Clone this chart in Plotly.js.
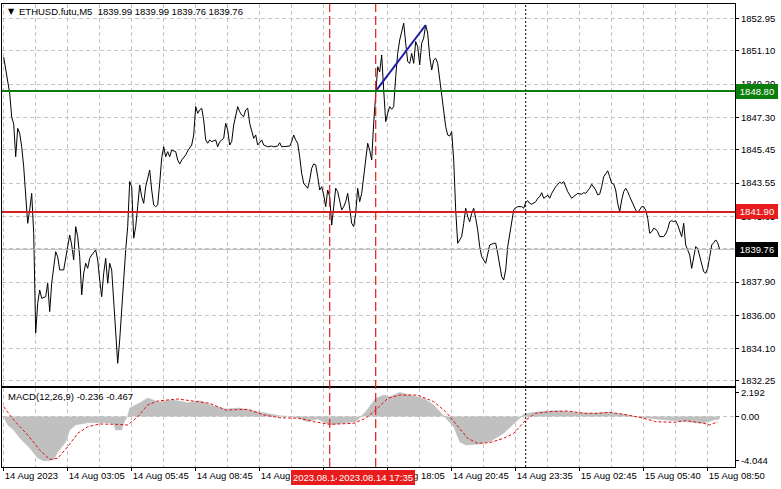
<!DOCTYPE html>
<html><head><meta charset="utf-8">
<script src="https://cdn.plot.ly/plotly-3.0.1.min.js"></script>
<style>html,body{margin:0;padding:0;background:#fff;}#chart{width:781px;height:489px;}</style>
</head><body><div id="chart"></div>
<script>
// ---- data (bar index = M5 bar number from left edge) ----
const priceIdx = [0,2,3,4,5,6,7,8,9,10,11,12,13,14,15,16,17,18,19,21,22,23,24,25,26,27,28,30,31,32,33,34,35,36,37,38,39,40,41,42,43,44,46,47,48,49,50,51,52,53,54,55,56,57,58,59,60,61,62,63,64,65,66,67,68,69,70,71,73,74,75,76,77,78,79,80,81,82,83,84,86,87,88,89,91,92,94,95,96,97,98,99,100,101,102,103,104,106,107,108,110,111,112,113,114,115,117,118,119,120,121,122,123,125,126,127,129,130,132,134,135,137,138,139,141,143,144,145,146,147,148,149,150,152,153,154,155,156,157,158,159,160,161,162,163,164,165,166,167,168,169,170,171,172,173,174,175,176,177,178,179,180,181,182,183,184,185,186,187,188,189,190,191,192,193,194,195,196,197,198,199,200,201,202,203,204,205,206,207,208,209,210,211,212,213,214,215,216,217,218,219,220,221,222,223,224,225,226,227,228,229,230,231,232,233,234,235,236,237,238,239,241,242,243,245,246,247,248,249,250,251,252,253,254,255,256,257,259,260,261,262,263,264,266,267,268,269,270,271,272,273,274,275,276,278,279,280,281,282,284,286,287,289,290,291,293,294,296,297,298,299,300,301,302,303,304,305,306,307,308,309,310,311,312,313,314,315,316,317,318,319,320,321,322,323,324,325,326,327,328,330,331,332,333,334,335,336,337,338,339,340,341,342,343,344,345,346,347,348,349,350,351,352,353,354,355,356,357,358];
const priceVal = [1850.73,1849.24,1848.67,1847.32,1846.92,1845.05,1846.67,1846.39,1845.62,1844.48,1842.96,1841.25,1842.01,1842.96,1840.68,1834.99,1836.68,1837.44,1836.97,1837.06,1837.83,1836.21,1837.83,1838.77,1839.63,1839.34,1838.59,1838.59,1839.16,1839.92,1840.58,1840.01,1839.16,1841.06,1840.49,1839.34,1837.16,1838.40,1838.97,1838.68,1839.25,1839.44,1839.73,1839.16,1838.01,1837.06,1838.40,1839.25,1837.83,1838.97,1838.59,1836.87,1834.97,1833.26,1834.59,1836.11,1838.01,1839.73,1841.06,1843.63,1843.34,1840.40,1841.06,1842.20,1843.44,1842.77,1842.39,1843.34,1844.29,1843.15,1842.30,1842.20,1842.30,1843.53,1844.98,1845.62,1845.05,1845.34,1845.05,1845.43,1845.34,1844.86,1844.64,1844.86,1845.15,1845.38,1845.72,1846.29,1847.91,1847.53,1847.72,1847.82,1847.15,1846.01,1845.82,1846.01,1845.91,1846.01,1845.62,1845.91,1846.10,1846.96,1846.58,1845.72,1845.91,1846.86,1847.91,1847.62,1847.43,1847.34,1847.72,1847.82,1846.96,1846.10,1846.29,1845.72,1846.01,1845.72,1845.62,1845.66,1845.62,1845.66,1845.85,1845.62,1845.66,1845.66,1845.91,1846.29,1846.01,1845.82,1845.05,1844.10,1843.53,1843.25,1843.72,1844.39,1844.64,1844.58,1843.91,1843.15,1843.34,1842.87,1842.20,1843.15,1842.77,1841.15,1842.20,1843.25,1843.06,1842.58,1842.01,1842.20,1842.48,1842.96,1842.01,1841.25,1841.06,1841.82,1843.25,1842.48,1842.96,1843.91,1844.96,1845.82,1845.43,1844.86,1846.98,1848.80,1850.19,1849.89,1850.86,1848.86,1847.05,1847.53,1847.91,1847.76,1847.91,1849.62,1850.95,1851.71,1852.28,1852.67,1851.53,1850.48,1850.38,1850.95,1850.38,1851.62,1851.33,1850.29,1851.53,1851.83,1852.57,1852.10,1850.76,1850.00,1850.57,1850.67,1850.38,1849.43,1848.48,1847.53,1846.77,1846.29,1846.23,1846.48,1844.86,1842.01,1840.11,1840.30,1840.49,1841.25,1842.11,1841.63,1841.34,1841.82,1842.11,1841.54,1840.87,1839.92,1839.34,1838.97,1839.54,1840.01,1840.11,1840.11,1839.54,1838.77,1838.20,1838.01,1838.59,1839.92,1840.68,1841.44,1842.01,1842.14,1842.20,1842.20,1842.11,1842.43,1842.54,1842.39,1842.34,1842.48,1842.68,1842.77,1843.00,1842.68,1842.75,1842.87,1842.68,1842.96,1843.15,1843.34,1843.59,1843.53,1843.63,1843.38,1843.06,1842.68,1842.87,1842.96,1842.91,1843.00,1842.96,1843.25,1843.48,1843.15,1842.87,1842.91,1843.34,1843.91,1844.07,1844.25,1843.91,1843.53,1843.49,1843.15,1842.39,1841.91,1842.58,1843.06,1843.25,1843.06,1842.77,1842.48,1842.30,1842.01,1841.86,1842.05,1842.20,1842.20,1842.01,1841.54,1840.68,1840.77,1840.97,1840.91,1840.77,1840.49,1840.49,1840.64,1840.91,1841.34,1841.40,1841.34,1841.40,1841.15,1840.87,1840.49,1841.25,1840.01,1839.73,1839.44,1838.68,1839.34,1839.92,1839.82,1839.34,1838.87,1838.49,1838.40,1838.68,1839.34,1840.01,1840.14,1840.30,1840.14,1839.76];

const macdIdx = [0,2,5,8,13,17,20,23,25,27,31,33,36,42,47,52,55,56,59,60,62,63,68,72,77,85,92,98,105,111,118,125,132,138,145,152,157,163,170,176,181,186,190,193,198,203,210,215,220,225,228,231,237,243,250,257,260,265,272,278,285,293,302,310,318,327,335,343,350,355,358];
const macdVal = [0,-0.77,-1.23,-1.95,-2.86,-3.77,-4.04,-4.0,-3.95,-3.23,-2.32,-1.23,-0.77,-0.56,-0.59,-0.56,-0.68,-1.23,-1.23,-0.59,0.05,0.77,1.23,1.68,1.35,1.50,1.25,1.44,0.95,0.68,0.77,0.53,0.23,0.07,-0.02,-0.47,-0.23,-0.77,-0.59,-0.47,0.44,1.65,1.95,1.80,2.19,1.95,1.65,1.05,0.07,-0.93,-2.29,-2.59,-2.53,-2.29,-1.53,-0.32,0.20,0.38,0.50,0.53,0.38,0.29,0.38,0.20,-0.07,-0.25,-0.38,-0.47,-0.62,-0.32,-0.236];
const signalIdx = [0,5,12,18,23,27,32,37,42,48,56,62,67,72,77,87,97,103,111,122,130,138,148,155,163,175,181,186,192,198,207,215,221,227,232,237,243,250,255,261,266,273,282,290,297,303,310,320,326,335,341,350,353,357];
const signalVal = [0.89,-0.32,-1.68,-3.05,-3.9,-3.80,-2.75,-1.53,-0.93,-0.68,-0.71,-0.77,-0.02,1.05,1.41,1.59,1.35,1.20,0.59,0.65,0.14,-0.11,-0.16,-0.47,-0.71,-0.62,-0.16,0.59,1.65,1.95,1.95,1.35,0.44,-0.93,-1.98,-2.44,-2.38,-1.98,-1.53,-0.32,0.29,0.44,0.50,0.29,0.29,0.38,0.20,-0.16,-0.47,-0.53,-0.38,-0.62,-0.77,-0.467];

const priceTicks = [1832.25,1834.10,1836.00,1837.90,1839.80,1841.65,1843.55,1845.45,1847.30,1849.20,1851.10,1852.95];
const macdTicks = [2.192,0,-4.044];
const macdTickText = ['2.192','0.00','-4.044'];
const timeTickIdx = [0,32,64,96,128,160,192,224,256,288,320,352];
const timeTickText = ['14 Aug 2023','14 Aug 03:05','14 Aug 05:45','14 Aug 08:45','14 Aug 11:25','14 Aug 14:45','14 Aug 18:05','14 Aug 20:45','14 Aug 23:35','15 Aug 02:45','15 Aug 05:40','15 Aug 08:50'];
const gridIdx = [0,16,32,48,64,80,96,112,128,144,160,176,192,208,224,240,256,272,288,304,320,336,352];

const levelPrices = [1848.80, 1841.90];
const levelLabels = ['1848.80','1841.90'];
const lastPrice = 1839.76;
const lastLabel = '1839.76';
const vLineIdx = [163, 186];
const vLineLabels = ['2023.08.14 15:40','2023.08.14 17:35'];
const dotLineIdx = 261;
const trendIdx = [186, 211];
const trendVal = [1848.80, 1852.57];
const titleText = 'ETHUSD.futu,M5  1839.99 1839.99 1839.76 1839.76';
const macdText = 'MACD(12,26,9) -0.236 -0.467';

// ---- styles ----
const FONT = 'Liberation Sans, Arial, DejaVu Sans, sans-serif';
const GRID = '#c4c4c4';
const GDASH = '4px,3px';
const GREEN = '#0a7d0a';
const RED = '#e01c1c';

const traces = [
  {x: priceIdx, y: priceVal, type:'scatter', mode:'lines', xaxis:'x', yaxis:'y',
   line:{color:'#000', width:1}, hoverinfo:'skip'},
  {x: trendIdx, y: trendVal, type:'scatter', mode:'lines', xaxis:'x', yaxis:'y',
   line:{color:'#1c1ca8', width:2}, hoverinfo:'skip'},
  {x: macdIdx, y: macdVal, type:'scatter', mode:'lines', xaxis:'x2', yaxis:'y2',
   fill:'tozeroy', fillcolor:'#c0c0c0', line:{color:'#c0c0c0', width:0.5}, hoverinfo:'skip'},
  {x: signalIdx, y: signalVal, type:'scatter', mode:'lines', xaxis:'x2', yaxis:'y2',
   line:{color:'#e01010', width:1, dash:'3px,2px'}, hoverinfo:'skip'}
];

const shapes = [];
shapes.push({type:'line', xref:'x2 domain', x0:0, x1:1, yref:'y2', y0:0, y1:0,
  line:{color:GRID, width:1, dash:GDASH}, layer:'below'});
shapes.push({type:'line', xref:'x domain', x0:0, x1:1, yref:'y', y0:lastPrice, y1:lastPrice,
  line:{color:'#bdbdbd', width:1}});
levelPrices.forEach((p,k)=>shapes.push({type:'line', xref:'x domain', x0:0, x1:1, yref:'y', y0:p, y1:p,
  line:{color: k===0 ? GREEN : '#d42020', width:2}}));
vLineIdx.forEach(v=>shapes.push({type:'line', xref:'x', x0:v, x1:v, yref:'paper', y0:0, y1:1,
  line:{color:RED, width:1.2, dash:'9px,4px'}}));
shapes.push({type:'line', xref:'x', x0:dotLineIdx, x1:dotLineIdx, yref:'paper', y0:0, y1:1,
  line:{color:'#000', width:1, dash:'2px,2px'}});

const annotations = [];
annotations.push({xref:'paper', yref:'paper', x:0, y:1, xanchor:'left', yanchor:'top', xshift:4, yshift:-1,
  text:'\u25BC', showarrow:false, font:{family:'DejaVu Sans', size:8, color:'#000'}});
annotations.push({xref:'paper', yref:'paper', x:0, y:1, xanchor:'left', yanchor:'top', xshift:15, yshift:0,
  text:titleText, showarrow:false, font:{family:FONT, size:9.5, color:'#000'}});
annotations.push({xref:'paper', yref:'y2 domain', x:0, y:1, xanchor:'left', yanchor:'top', xshift:4, yshift:-1,
  text:macdText, showarrow:false, font:{family:FONT, size:9.5, color:'#000'}});
const boxes = [[levelPrices[0], levelLabels[0], GREEN],[levelPrices[1], levelLabels[1], '#e81c1c'],[lastPrice, lastLabel, '#000']];
boxes.forEach(b=>annotations.push({xref:'paper', yref:'y', x:1, y:b[0], xanchor:'left', yanchor:'middle', xshift:1,
  text:b[1], showarrow:false, bgcolor:b[2], bordercolor:b[2], borderpad:1, width:38, align:'center',
  font:{family:FONT, size:9.5, color:'#fff'}}));
vLineIdx.forEach((v,k)=>annotations.push({xref:'x2', yref:'paper', x:v, y:0, xanchor:'center', yanchor:'top', yshift:-3,
  text:vLineLabels[k], showarrow:false, bgcolor:'#e81c1c', bordercolor:'#e81c1c', borderpad:1,
  font:{family:FONT, size:9.5, color:'#fff'}}));

const xr = [-0.85, 365.65];
const layout = {
  width:781, height:489, margin:{l:2, r:46, t:4, b:22},
  paper_bgcolor:'#fff', plot_bgcolor:'#fff', showlegend:false, hovermode:false,
  xaxis:{domain:[0,1], anchor:'y', range:xr, tickmode:'array', tickvals:gridIdx, showticklabels:false, ticks:'',
    showgrid:true, gridcolor:GRID, griddash:GDASH, gridwidth:1, zeroline:false,
    showline:true, mirror:true, linecolor:'#000', linewidth:1},
  yaxis:{domain:[0.175,1], anchor:'x', side:'right', range:[1831.965,1853.768], tickmode:'array',
    tickvals:priceTicks, ticktext:priceTicks.map(v=>v.toFixed(2)), ticks:'outside', ticklen:3, tickcolor:'#000',
    showgrid:true, gridcolor:GRID, griddash:GDASH, zeroline:false,
    showline:true, mirror:true, linecolor:'#000', linewidth:1,
    tickfont:{family:FONT, size:9.5, color:'#000'}},
  xaxis2:{domain:[0,1], anchor:'y2', range:xr, tickmode:'array', tickvals:timeTickIdx, ticktext:timeTickText,
    ticks:'outside', ticklen:3, tickcolor:'#000', ticklabelposition:'outside right', tickangle:0,
    showgrid:true, gridcolor:GRID, griddash:GDASH, zeroline:false,
    minor:{tickmode:'array', tickvals:gridIdx, showgrid:true, gridcolor:GRID, griddash:GDASH, ticks:''},
    showline:true, mirror:true, linecolor:'#000', linewidth:1,
    tickfont:{family:FONT, size:9.5, color:'#000'}},
  yaxis2:{domain:[0,0.1706], anchor:'x2', side:'right', range:[-4.59,2.59], tickmode:'array',
    tickvals:macdTicks, ticktext:macdTickText, ticks:'outside', ticklen:3, tickcolor:'#000',
    showgrid:false, zeroline:false, showline:true, mirror:true, linecolor:'#000', linewidth:1,
    tickfont:{family:FONT, size:9.5, color:'#000'}},
  shapes:shapes, annotations:annotations
};
Plotly.newPlot('chart', traces, layout, {staticPlot:true, displayModeBar:false});
</script></body></html>
